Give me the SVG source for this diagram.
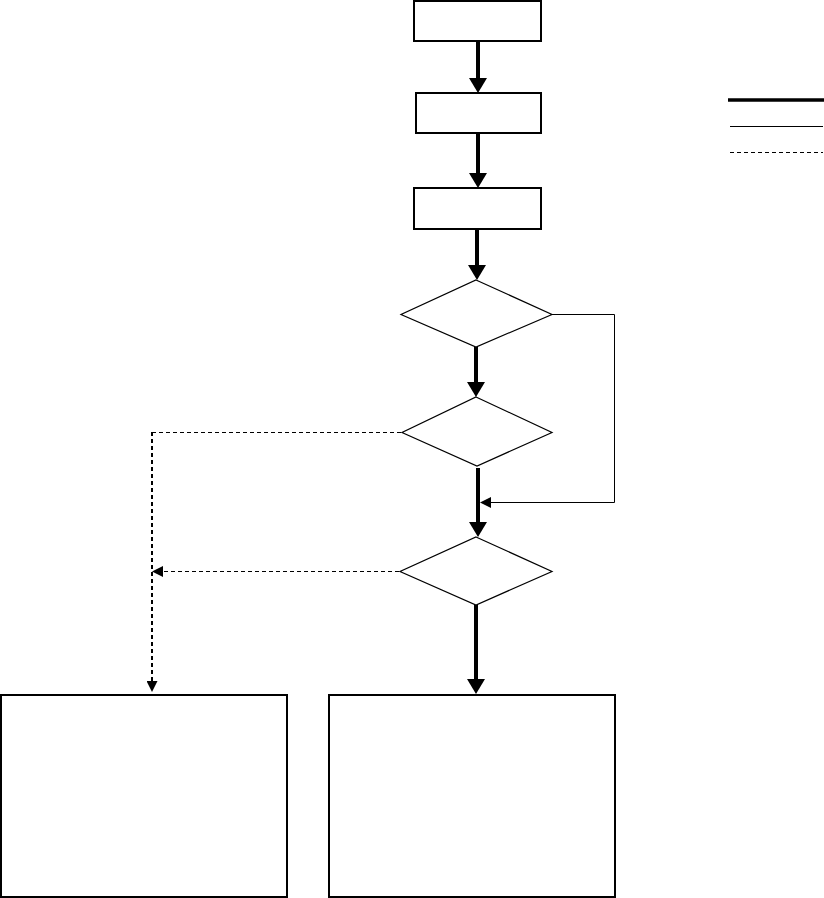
<svg xmlns="http://www.w3.org/2000/svg" width="824" height="898" viewBox="0 0 824 898">
<style>
.box{fill:#fff;stroke:#000;stroke-width:2}
.dia{fill:#fff;stroke:#000;stroke-width:1.2}
.thick{fill:none;stroke:#000;stroke-width:4}
.thin{fill:none;stroke:#000;stroke-width:1}
.dash{fill:none;stroke:#000;stroke-width:1;stroke-dasharray:4 3}
.dashv{fill:none;stroke:#000;stroke-width:2;stroke-dasharray:4 3}
</style>
<defs>
<marker id="hThick" viewBox="0 0 15 18" refX="2" refY="9" markerWidth="15" markerHeight="18" markerUnits="userSpaceOnUse" orient="auto"><path d="M0,0 L15,9 L0,18 z" fill="#000"/></marker>
<marker id="hSmall" viewBox="0 0 11 11" refX="1" refY="5.5" markerWidth="11" markerHeight="11" markerUnits="userSpaceOnUse" orient="auto"><path d="M0,0 L11,5.5 L0,11 z" fill="#000"/></marker>
</defs>
<rect width="824" height="898" fill="#fff"/>
<g id="box1"><rect class="box" x="414" y="1" width="127" height="40"/></g>
<g id="box2"><rect class="box" x="416" y="93" width="125" height="40"/></g>
<g id="box3"><rect class="box" x="414" y="188" width="127" height="41"/></g>
<g id="decision1"><polygon class="dia" points="476,280 552,314.5 476,347 401,314.5"/></g>
<g id="decision2"><polygon class="dia" points="476,397 552,432.5 477,466 402,432.5"/></g>
<g id="decision3"><polygon class="dia" points="476,537 552,571.5 476,605 400,571.5"/></g>
<g id="boxLeft"><rect class="box" x="1" y="695" width="286" height="202"/></g>
<g id="boxRight"><rect class="box" x="329" y="695" width="286" height="202"/></g>
<g id="legend">
<line x1="728" y1="100" x2="824" y2="100" stroke="#000" stroke-width="3.5"/>
<line x1="730" y1="126.5" x2="823" y2="126.5" stroke="#000" stroke-width="1"/>
<line x1="730" y1="152.5" x2="823" y2="152.5" stroke="#000" stroke-width="1" stroke-dasharray="4 3"/>
</g>
<g id="connectors">
<line class="thick" x1="478" y1="41" x2="478" y2="80" marker-end="url(#hThick)"/>
<line class="thick" x1="478" y1="133" x2="478" y2="175" marker-end="url(#hThick)"/>
<line class="thick" x1="477" y1="229" x2="477" y2="267" marker-end="url(#hThick)"/>
<line class="thick" x1="476" y1="347" x2="476" y2="384" marker-end="url(#hThick)"/>
<line class="thick" x1="478" y1="468" x2="478" y2="524" marker-end="url(#hThick)"/>
<line class="thick" x1="476" y1="605" x2="476" y2="681" marker-end="url(#hThick)"/>
<polyline class="thin" points="552,314.5 614.5,314.5 614.5,502.5 490,502.5" marker-end="url(#hSmall)"/>
<polyline class="dash" points="401,432.5 152,432.5"/>
<line class="dashv" x1="152" y1="432" x2="152" y2="682" marker-end="url(#hSmall)"/>
<line class="dash" x1="399" y1="571.5" x2="162" y2="571.5" marker-end="url(#hSmall)"/>
</g>
</svg>
